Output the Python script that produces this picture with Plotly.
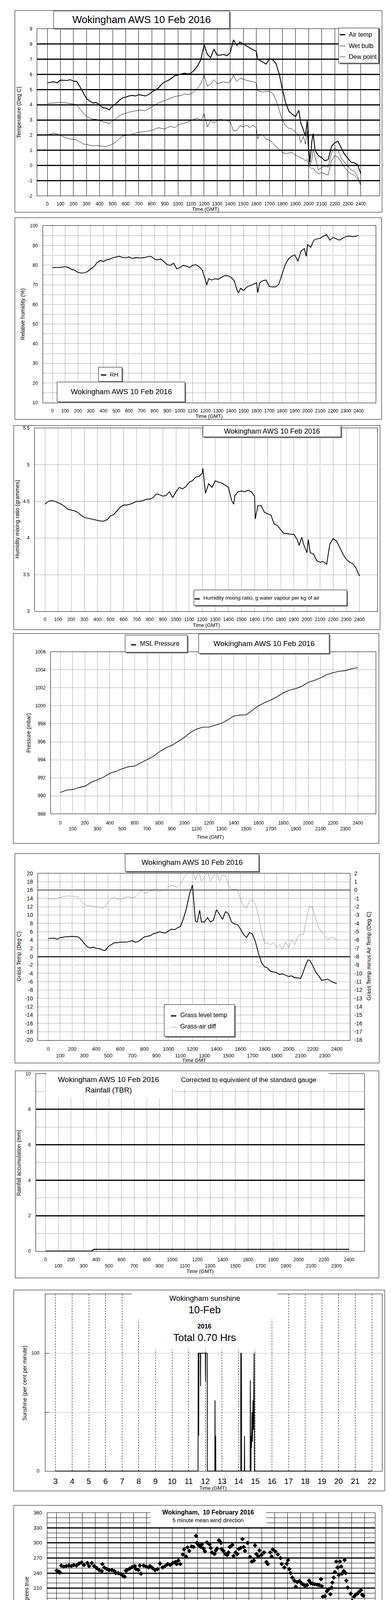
import plotly.graph_objects as go

W, H = 1000, 5000
FONT = "Liberation Sans"

# ---------------------------------------------------------------- data
# time in HHMM-style units (100 = one hour): air temp, wet bulb, dew point (deg C)
temp_rows = [
    (0, 5.44, 4.09, 2.02), (50, 5.52, 4.11, 2.12), (75, 5.44, 4.13, 2.08), (100, 5.62, 4.17, 1.97),
    (150, 5.60, 4.11, 1.80), (175, 5.65, 4.08, 1.75), (200, 5.56, 4.05, 1.72), (225, 5.54, 3.98, 1.68),
    (250, 5.18, 3.73, 1.55), (275, 4.80, 3.47, 1.42), (300, 4.41, 3.21, 1.38), (325, 4.24, 3.13, 1.33),
    (350, 4.11, 3.04, 1.29), (375, 4.15, 3.04, 1.33), (400, 3.98, 2.96, 1.29), (425, 3.81, 2.89, 1.26),
    (450, 3.77, 2.83, 1.26), (475, 3.66, 2.76, 1.32), (500, 3.94, 2.96, 1.42), (525, 4.07, 3.09, 1.55),
    (550, 4.28, 3.26, 1.76), (575, 4.45, 3.38, 1.93), (600, 4.50, 3.43, 1.97), (625, 4.58, 3.51, 2.00),
    (650, 4.62, 3.56, 2.06), (675, 4.58, 3.60, 2.12), (700, 4.67, 3.64, 2.19), (725, 4.62, 3.64, 2.21),
    (750, 4.58, 3.60, 2.23), (775, 4.67, 3.73, 2.27), (800, 4.84, 3.85, 2.32), (825, 4.97, 3.98, 2.40),
    (850, 5.10, 4.11, 2.49), (875, 5.35, 4.20, 2.44), (900, 5.52, 4.28, 2.40), (925, 5.60, 4.37, 2.53),
    (950, 5.74, 4.45, 2.57), (975, 5.91, 4.54, 2.49), (1000, 5.95, 4.58, 2.66), (1025, 6.03, 4.62, 2.74),
    (1050, 6.08, 4.71, 2.79), (1075, 6.03, 4.67, 2.87), (1100, 6.08, 4.71, 2.96), (1125, 6.29, 4.88, 3.04),
    (1150, 6.55, 5.10, 3.13), (1175, 6.97, 5.39, 2.96), (1200, 7.95, 5.95, 3.40), (1225, 7.32, 5.22, 2.53),
    (1250, 7.10, 5.35, 2.96), (1275, 7.66, 5.65, 2.79), (1300, 7.27, 5.39, 2.96), (1325, 7.27, 5.44, 3.04),
    (1350, 7.32, 5.52, 3.00), (1375, 7.23, 5.44, 2.96), (1400, 7.44, 5.52, 2.87), (1425, 8.28, 5.95, 2.27),
    (1450, 7.91, 5.52, 2.30), (1475, 8.13, 5.74, 2.62), (1500, 8.00, 5.69, 2.53), (1525, 7.87, 5.60, 2.66),
    (1550, 7.74, 5.56, 2.49), (1575, 7.62, 5.52, 2.66), (1600, 7.53, 5.44, 2.49), (1610, 7.02, 4.92, 1.75),
    (1625, 6.93, 4.88, 2.06), (1650, 6.80, 4.84, 2.02), (1675, 6.68, 4.88, 1.72), (1700, 7.02, 4.88, 1.68),
    (1725, 6.97, 4.75, 1.50), (1750, 6.72, 4.32, 1.25), (1775, 6.03, 3.64, 1.08), (1800, 5.01, 2.96, 0.86),
    (1825, 4.11, 2.62, 0.78), (1850, 3.56, 2.44, 0.82), (1875, 3.38, 2.40, 0.86), (1900, 3.21, 2.19, 0.69),
    (1925, 3.64, 2.02, 0.56), (1940, 2.79, 1.50, 0.50), (1960, 2.36, 1.93, 0.44), (1975, 1.93, 1.42, 0.31),
    (1990, 2.96, 2.27, 0.40), (2000, 1.25, 0.65, 0.05), (2010, 0.22, -0.03, -0.10), (2025, 1.59, 0.39, -0.21),
    (2035, 2.10, 1.08, -0.15), (2050, 0.99, 0.56, -0.38), (2075, 0.65, -0.29, -0.55), (2100, 0.52, -0.12, -0.46),
    (2125, 0.31, -0.03, -0.55), (2150, 0.39, -0.12, -0.63), (2175, 1.25, 0.82, 0.31), (2200, 1.50, 1.16, 0.65),
    (2225, 1.59, 0.99, 0.56), (2250, 1.16, 0.48, 0.22), (2275, 0.74, 0.22, -0.12), (2300, 0.48, -0.03, -0.38),
    (2325, 0.22, -0.29, -0.55), (2350, 0.18, -0.38, -0.63), (2375, 0.05, -0.72, -0.89), (2400, -0.55, -1.23, -1.32),
]

# relative humidity (%)
rh = [
    (0, 78.8), (50, 78.8), (100, 79.2), (125, 78.8), (150, 77.8), (175, 77.4), (200, 76.3), (225, 76.0),
    (250, 76.1), (275, 76.7), (300, 78.1), (325, 79.2), (350, 81.3), (375, 82.4), (400, 81.8), (425, 82.7),
    (450, 83.1), (475, 83.8), (500, 84.2), (525, 84.5), (550, 83.9), (575, 83.8), (600, 84.2), (625, 83.4),
    (650, 83.8), (675, 83.8), (700, 83.7), (725, 83.9), (750, 84.4), (775, 84.4), (800, 83.1), (825, 82.7),
    (850, 83.1), (875, 81.7), (900, 80.2), (925, 79.9), (950, 81.0), (975, 78.1), (1000, 78.8), (1025, 79.9),
    (1050, 79.5), (1075, 78.8), (1100, 79.9), (1125, 80.2), (1150, 79.2), (1175, 77.4), (1200, 72.4), (1210, 69.9),
    (1225, 73.1), (1250, 72.4), (1275, 73.1), (1300, 72.8), (1325, 73.8), (1350, 74.7), (1375, 74.6), (1400, 73.8),
    (1425, 72.1), (1450, 66.7), (1460, 66.0), (1475, 68.2), (1500, 67.1), (1525, 68.9), (1550, 69.6), (1575, 70.3),
    (1600, 71.0), (1610, 66.0), (1625, 71.0), (1650, 72.1), (1675, 72.4), (1700, 69.2), (1725, 68.9), (1750, 68.9),
    (1775, 70.3), (1800, 75.3), (1825, 80.2), (1850, 83.1), (1875, 84.5), (1900, 85.2), (1925, 82.0), (1950, 87.3),
    (1975, 88.4), (1990, 84.5), (2000, 90.5), (2025, 89.1), (2050, 92.7), (2075, 93.4), (2100, 93.7), (2125, 94.8),
    (2150, 95.5), (2175, 92.7), (2200, 94.1), (2225, 93.4), (2250, 92.7), (2275, 93.7), (2300, 94.5), (2325, 94.8),
    (2350, 94.5), (2375, 94.6), (2400, 95.2),
]

# humidity mixing ratio (g/kg)
mixing = [
    (0, 4.46), (25, 4.50), (50, 4.51), (75, 4.50), (100, 4.48), (125, 4.46), (150, 4.43), (175, 4.39),
    (200, 4.38), (225, 4.37), (250, 4.35), (275, 4.31), (300, 4.28), (325, 4.27), (350, 4.26), (375, 4.25),
    (400, 4.24), (425, 4.23), (450, 4.23), (475, 4.25), (500, 4.30), (525, 4.32), (550, 4.37), (575, 4.42),
    (600, 4.45), (625, 4.45), (650, 4.46), (675, 4.48), (700, 4.50), (725, 4.50), (750, 4.51), (775, 4.53),
    (800, 4.53), (825, 4.55), (850, 4.60), (875, 4.59), (900, 4.57), (925, 4.58), (950, 4.63), (975, 4.55),
    (1000, 4.63), (1025, 4.69), (1050, 4.67), (1075, 4.70), (1100, 4.76), (1125, 4.78), (1150, 4.83), (1175, 4.84),
    (1200, 4.88), (1205, 4.95), (1225, 4.61), (1250, 4.74), (1275, 4.69), (1300, 4.78), (1325, 4.76), (1350, 4.75),
    (1375, 4.72), (1400, 4.69), (1425, 4.51), (1440, 4.46), (1450, 4.58), (1475, 4.63), (1500, 4.64), (1525, 4.63),
    (1550, 4.65), (1575, 4.63), (1600, 4.57), (1605, 4.26), (1625, 4.44), (1650, 4.44), (1675, 4.35), (1700, 4.33),
    (1725, 4.31), (1750, 4.19), (1775, 4.17), (1800, 4.11), (1825, 4.06), (1850, 4.06), (1875, 4.05), (1900, 4.05),
    (1925, 3.98), (1940, 3.90), (1960, 4.01), (1975, 3.91), (2000, 3.80), (2010, 3.98), (2025, 3.80), (2050, 3.78),
    (2075, 3.69), (2100, 3.67), (2125, 3.68), (2150, 3.64), (2175, 3.92), (2200, 3.99), (2225, 3.96), (2250, 3.87),
    (2275, 3.78), (2300, 3.71), (2325, 3.67), (2350, 3.65), (2375, 3.59), (2400, 3.48),
]

# MSL pressure (mbar)
pressure = [
    (0, 990.37), (50, 990.63), (100, 990.70), (150, 990.92), (200, 991.07), (250, 991.50), (300, 991.79),
    (350, 992.08), (400, 992.51), (450, 992.72), (500, 993.01), (550, 993.23), (600, 993.30), (650, 993.66),
    (700, 994.02), (750, 994.38), (800, 994.89), (850, 995.32), (900, 995.61), (950, 996.04), (1000, 996.48),
    (1050, 997.05), (1100, 997.41), (1150, 997.63), (1200, 997.63), (1250, 997.85), (1300, 998.06), (1350, 998.42),
    (1400, 998.86), (1450, 998.97), (1500, 999.00), (1550, 999.51), (1600, 1000.01), (1650, 1000.37),
    (1700, 1000.66), (1750, 1001.02), (1800, 1001.45), (1850, 1001.74), (1900, 1001.92), (1950, 1002.18),
    (2000, 1002.61), (2050, 1002.83), (2100, 1003.11), (2150, 1003.47), (2200, 1003.69), (2250, 1003.84),
    (2300, 1003.91), (2350, 1004.12), (2400, 1004.24),
]

# grass level temperature (deg C, left axis)
grass = [
    (0, 4.37), (50, 4.44), (75, 4.19), (100, 4.59), (150, 4.81), (200, 4.87), (250, 4.75), (275, 4.12),
    (300, 3.19), (325, 2.41), (350, 2.10), (375, 2.32), (400, 2.01), (425, 1.95), (450, 1.63), (475, 1.48),
    (500, 2.41), (525, 2.88), (550, 3.35), (575, 3.35), (600, 3.50), (650, 3.50), (700, 3.81), (725, 3.50),
    (750, 3.66), (800, 4.75), (825, 4.90), (850, 5.06), (875, 5.53), (900, 5.68), (925, 5.99), (950, 5.84),
    (975, 5.68), (1000, 6.15), (1025, 6.61), (1050, 6.46), (1075, 6.93), (1100, 7.24), (1125, 9.10), (1150, 11.6),
    (1175, 15.0), (1200, 17.2), (1210, 13.5), (1225, 8.5), (1240, 8.33), (1260, 11.13), (1275, 8.33), (1300, 8.33),
    (1325, 9.42), (1350, 8.33), (1375, 8.80), (1400, 11.28), (1425, 10.19), (1450, 8.95), (1475, 10.82),
    (1500, 10.35), (1525, 8.33), (1550, 7.86), (1575, 7.70), (1600, 6.61), (1625, 5.37), (1650, 4.59),
    (1675, 5.84), (1700, 5.37), (1725, 3.50), (1750, 0.70), (1775, -1.48), (1800, -2.41), (1825, -2.72),
    (1850, -3.50), (1875, -3.66), (1900, -3.81), (1925, -4.28), (1950, -4.12), (1975, -4.44), (2000, -4.75),
    (2025, -4.59), (2050, -5.06), (2075, -5.06), (2100, -5.21), (2120, -3.81), (2140, -2.10), (2160, -0.79),
    (2175, -0.86), (2200, -2.10), (2225, -3.66), (2250, -4.59), (2275, -5.68), (2300, -5.53), (2325, -5.37),
    (2350, -5.84), (2375, -6.21), (2400, -6.46),
]

# grass minus air temperature (deg C, right axis)
grass_diff = [
    (0, -1.08), (50, -1.08), (100, -0.88), (150, -0.72), (200, -0.72), (250, -0.80), (275, -1.35), (300, -1.66),
    (325, -1.89), (350, -1.86), (375, -1.97), (400, -2.02), (425, -2.05), (450, -2.20), (475, -1.97), (500, -1.42),
    (525, -1.03), (550, -0.88), (575, -1.08), (600, -1.11), (625, -0.96), (650, -0.83), (675, -0.80), (700, -0.96),
    (725, -0.80), (750, -0.49), (775, -0.02), (800, -0.33), (825, -0.33), (850, -0.10), (875, 0.05), (900, 0.13),
    (925, -0.26), (950, 0.05), (975, -0.02), (1000, 0.37), (1025, 0.60), (1050, 0.44), (1075, 0.37), (1100, 0.75),
    (1125, 1.38), (1150, 1.92), (1175, 2.40), (1200, 2.60), (1225, 1.22), (1250, 2.30), (1275, 1.07), (1300, 1.53),
    (1325, 2.20), (1350, 1.07), (1375, 1.69), (1400, 2.30), (1425, 1.07), (1450, 1.84), (1475, 1.69), (1500, 0.60),
    (1525, 0.05), (1550, 0.13), (1575, -0.02), (1600, -1.11), (1625, -1.89), (1650, -2.20), (1675, -1.27),
    (1700, -1.19), (1725, -1.74), (1750, -3.14), (1775, -5.00), (1800, -6.40), (1825, -6.33), (1850, -6.56),
    (1875, -6.25), (1900, -6.87), (1925, -6.56), (1950, -7.10), (1975, -6.25), (2000, -6.87), (2025, -5.94),
    (2050, -6.56), (2075, -5.63), (2100, -5.32), (2125, -5.32), (2140, -4.07), (2160, -2.67), (2175, -1.89),
    (2200, -2.20), (2225, -3.45), (2250, -4.54), (2275, -5.00), (2300, -5.47), (2325, -5.94), (2350, -5.70),
    (2375, -5.78), (2400, -5.94),
]

# rainfall accumulation (mm)
rain = [(0, 0.0), (365, 0.0), (380, 0.1), (2400, 0.1)]

# sunshine, hour of day vs per cent of the minute
sunshine = [
    (3.0, 0), (11.56, 0), (11.57, 100), (11.59, 100), (11.60, 30), (11.61, 100), (11.70, 100), (11.71, 72),
    (11.72, 100), (12.00, 100), (12.01, 76), (12.02, 100), (12.11, 100), (12.12, 0), (12.57, 0), (12.58, 60),
    (12.59, 0), (12.61, 0), (12.62, 30), (12.63, 0), (14.12, 0), (14.13, 100), (14.16, 100), (14.17, 74),
    (14.18, 0), (14.34, 0), (14.35, 30), (14.36, 0), (14.69, 0), (14.70, 77), (14.71, 0), (14.74, 0),
    (14.75, 30), (14.77, 20), (14.80, 50), (14.83, 25), (14.86, 60), (14.89, 35), (14.93, 100), (14.94, 40),
    (14.95, 0), (22.0, 0),
]

# 5 minute mean wind direction (hour, degrees true)
wind_dir = [
    (0.00, 245), (0.16, 243), (0.26, 241), (0.36, 255), (0.55, 253), (0.75, 254), (0.95, 255), (1.15, 254),
    (1.34, 256), (1.54, 255), (1.74, 259), (1.94, 261), (2.13, 256), (2.39, 260), (2.53, 254), (2.73, 260),
    (2.92, 254), (3.12, 250), (3.32, 246), (3.52, 244), (3.56, 258), (3.72, 251), (3.91, 248), (4.11, 246),
    (4.31, 246), (4.50, 244), (4.60, 240), (4.80, 240), (5.00, 238), (5.20, 234), (5.30, 233), (5.40, 245),
    (5.49, 246), (5.69, 249), (5.89, 252), (6.09, 254), (6.19, 248), (6.38, 246), (6.48, 255), (6.58, 239),
    (6.78, 255), (6.98, 253), (7.17, 251), (7.27, 254), (7.47, 250), (7.67, 246), (7.87, 248), (8.06, 259),
    (8.26, 251), (8.46, 254), (8.66, 258), (8.85, 256), (9.05, 260), (9.25, 262), (9.35, 258), (9.49, 265),
    (9.64, 258), (9.84, 277), (9.94, 287), (10.08, 273), (10.20, 291), (10.34, 284), (10.53, 293), (10.67, 292),
    (10.87, 314), (10.93, 300), (11.07, 296), (11.23, 292), (11.32, 297), (11.46, 289), (11.56, 283), (11.72, 301),
    (11.92, 297), (12.02, 290), (12.11, 281), (12.31, 278), (12.41, 285), (12.51, 289), (12.65, 305), (12.81, 300),
    (12.85, 288), (13.00, 284), (13.16, 278), (13.30, 276), (13.40, 281), (13.50, 292), (13.70, 296), (13.79, 274),
    (13.95, 281), (14.09, 278), (14.19, 288), (14.35, 290), (14.49, 308), (14.58, 292), (14.68, 284), (14.88, 300),
    (15.08, 272), (15.22, 263), (15.38, 265), (15.47, 295), (15.57, 278), (15.73, 273), (15.81, 285), (15.97, 276),
    (16.17, 281), (16.36, 262), (16.46, 258), (16.66, 281), (16.76, 273), (16.86, 287), (17.06, 283), (17.25, 277),
    (17.45, 270), (17.55, 258), (17.75, 251), (17.94, 259), (18.04, 266), (18.14, 248), (18.24, 240), (18.38, 231),
    (18.54, 225), (18.64, 213), (18.77, 222), (18.93, 224), (19.09, 220), (19.23, 217), (19.37, 215), (19.53, 216),
    (19.68, 225), (19.82, 220), (19.96, 219), (20.12, 218), (20.32, 217), (20.47, 216), (20.61, 228), (20.67, 214),
    (20.77, 193), (20.91, 194), (21.07, 204), (21.21, 208), (21.34, 198), (21.44, 211), (21.50, 221), (21.60, 231),
    (21.70, 242), (21.80, 263), (21.90, 251), (22.00, 236), (22.09, 263), (22.19, 253), (22.25, 239), (22.39, 244),
    (22.45, 266), (22.53, 240), (22.59, 225), (22.69, 211), (22.79, 152), (22.85, 140), (22.92, 199), (23.04, 185),
    (23.08, 154), (23.18, 193), (23.32, 197), (23.48, 200), (23.64, 204), (23.72, 206), (23.83, 197), (23.91, 195),
]

# 10 minute mean wind speed (hour, knots)
wind_mean = [
    (0.0, 10.3), (0.25, 9.5), (0.5, 9.3), (0.75, 9.7), (1.0, 11.2), (1.25, 10.1), (1.5, 11.6), (1.75, 13.0),
    (2.0, 9.5), (2.2, 11.0), (2.5, 9.9), (2.75, 9.3), (3.0, 9.5), (3.25, 8.9), (3.5, 9.1), (3.75, 9.7),
    (4.0, 9.1), (4.25, 8.2), (4.5, 9.3), (4.75, 7.8), (5.0, 7.4), (5.25, 7.8), (5.5, 8.7), (5.75, 8.9),
    (6.0, 8.4), (6.25, 9.7), (6.5, 8.9), (6.75, 8.4), (7.0, 9.5), (7.25, 8.4), (7.5, 8.7), (7.75, 8.2),
    (8.0, 8.0), (8.25, 9.3), (8.5, 8.2), (8.75, 7.4), (9.0, 7.6), (9.25, 7.0), (9.5, 7.8), (9.75, 6.8),
    (10.0, 7.6), (10.25, 7.4), (10.5, 7.0), (10.75, 7.6), (11.0, 6.1), (11.25, 6.8), (11.5, 5.5), (11.75, 6.5),
    (12.0, 6.1), (12.25, 7.2), (12.5, 6.3), (12.75, 5.9), (13.0, 7.0), (13.25, 6.5), (13.5, 7.2), (13.75, 7.6),
    (14.0, 5.7), (14.25, 6.1), (14.5, 7.6), (14.75, 5.7), (15.0, 6.1), (15.25, 6.3), (15.5, 7.6), (15.75, 6.3),
    (16.0, 5.7), (16.25, 3.8), (16.5, 3.0), (16.75, 3.8), (17.0, 4.4), (17.25, 3.4), (17.5, 3.2), (17.75, 2.5),
    (18.0, 2.1), (18.25, 2.5), (18.5, 3.0), (18.75, 3.4), (19.0, 3.2), (19.25, 3.4), (19.5, 3.4), (19.75, 3.4),
    (20.0, 3.2), (20.25, 3.4), (20.5, 1.9), (20.75, 2.1), (21.0, 2.3), (21.25, 2.5), (21.5, 3.0), (21.75, 1.3),
    (22.0, 1.1), (22.25, 1.7), (22.5, 1.3), (22.75, 1.1), (23.0, 1.7), (23.25, 2.1), (23.5, 3.0), (23.75, 3.4),
    (24.0, 3.6),
]

# max gust (hour, knots)
wind_gust = [
    (0.0, 12.5), (0.1, 16.7), (0.2, 11.8), (0.3, 15.5), (0.4, 12.0), (0.5, 16.0), (0.6, 10.5), (0.7, 22.3),
    (0.8, 12.5), (0.9, 17.5), (1.0, 12.0), (1.1, 20.5), (1.2, 13.5), (1.3, 18.0), (1.4, 14.0), (1.5, 19.5),
    (1.6, 13.0), (1.7, 24.4), (1.8, 14.5), (1.9, 21.0), (2.0, 12.5), (2.1, 20.3), (2.2, 13.0), (2.3, 18.0),
    (2.4, 11.5), (2.5, 16.0), (2.6, 10.5), (2.7, 15.5), (2.8, 11.0), (2.9, 14.5), (3.0, 10.0), (3.1, 14.0),
    (3.2, 9.5), (3.3, 15.0), (3.4, 10.0), (3.5, 13.5), (3.6, 16.0), (3.7, 10.5), (3.8, 14.5), (3.9, 9.5),
    (4.0, 15.0), (4.1, 10.0), (4.2, 16.5), (4.3, 9.0), (4.4, 14.5), (4.5, 9.5), (4.6, 13.0), (4.7, 8.5),
    (4.8, 14.0), (4.9, 9.0), (5.0, 16.5), (5.1, 9.5), (5.2, 13.5), (5.3, 10.0), (5.4, 15.0), (5.5, 20.3),
    (5.6, 10.5), (5.7, 16.5), (5.8, 11.0), (5.9, 15.0), (6.0, 10.5), (6.1, 19.4), (6.2, 11.0), (6.3, 15.5),
    (6.4, 10.0), (6.5, 14.0), (6.6, 9.5), (6.7, 15.0), (6.8, 10.0), (6.9, 14.5), (7.0, 9.5), (7.1, 16.0),
    (7.2, 10.0), (7.3, 15.0), (7.4, 9.0), (7.5, 13.5), (7.6, 9.5), (7.7, 15.5), (7.8, 18.2), (7.9, 9.0),
    (8.0, 14.0), (8.1, 8.5), (8.2, 13.5), (8.3, 9.0), (8.4, 14.5), (8.5, 8.5), (8.6, 13.0), (8.7, 9.0),
    (8.8, 15.5), (8.9, 8.0), (9.0, 13.0), (9.1, 8.5), (9.2, 14.5), (9.3, 8.0), (9.4, 12.5), (9.5, 17.0),
    (9.6, 8.5), (9.7, 13.5), (9.8, 8.0), (9.9, 14.0), (10.0, 7.5), (10.1, 12.5), (10.2, 8.0), (10.3, 13.0),
    (10.4, 7.5), (10.5, 12.0), (10.6, 8.0), (10.7, 13.0), (10.8, 7.0), (10.9, 11.5), (11.0, 7.5), (11.1, 12.5),
    (11.2, 6.5), (11.3, 11.0), (11.4, 7.0), (11.5, 10.5), (11.6, 6.5), (11.7, 12.0), (11.8, 7.0), (11.9, 11.0),
    (12.0, 6.5), (12.1, 11.5), (12.2, 7.5), (12.3, 12.0), (12.4, 7.0), (12.5, 10.5), (12.6, 6.5), (12.7, 11.0),
    (12.8, 7.0), (12.9, 12.5), (13.0, 7.5), (13.1, 13.0), (13.2, 7.0), (13.3, 11.5), (13.4, 7.5), (13.5, 12.5),
    (13.6, 6.5), (13.7, 13.0), (13.8, 6.0), (13.9, 10.5), (14.0, 5.5), (14.1, 10.0), (14.2, 6.0), (14.3, 11.0),
    (14.4, 6.5), (14.5, 9.5), (14.6, 6.0), (14.7, 11.5), (14.8, 6.5), (14.9, 12.0), (15.0, 7.0), (15.1, 11.0),
    (15.2, 6.5), (15.3, 13.0), (15.4, 7.0), (15.5, 14.0), (15.6, 7.5), (15.7, 12.5), (15.8, 6.5), (15.9, 11.0),
    (16.0, 17.0), (16.1, 6.0), (16.2, 8.0), (16.3, 4.5), (16.4, 7.0), (16.6, 5.0), (16.8, 6.5), (17.0, 4.5),
    (17.2, 6.0), (17.4, 3.5), (17.6, 5.0), (17.8, 3.0), (18.0, 4.0), (18.2, 2.8), (18.4, 3.8), (18.6, 3.2),
    (18.8, 4.5), (19.0, 3.5), (19.2, 4.8), (19.4, 3.6), (19.6, 5.0), (19.8, 3.8), (20.0, 4.6), (20.2, 3.5),
    (20.4, 4.2), (20.6, 2.2), (20.8, 3.2), (21.0, 2.5), (21.2, 3.8), (21.4, 2.6), (21.6, 3.7), (21.8, 1.5),
    (22.0, 3.5), (22.2, 1.8), (22.4, 3.4), (22.6, 1.6), (22.8, 3.0), (23.0, 2.0), (23.2, 4.0), (23.4, 3.2),
    (23.6, 5.0), (23.8, 4.2), (24.0, 5.5),
]

# speeds below 4 kt shown at x10 scale (hour, knots x10)
wind_x10 = [
    (16.47, 37.7), (16.53, 35.3), (16.57, 32.3), (16.59, 29.6), (16.61, 27.9), (16.67, 34.2), (16.69, 31.3),
    (16.72, 37.7), (16.76, 39.3), (16.80, 37.0), (17.11, 39.3), (17.19, 37.8), (17.21, 36.7), (17.30, 34.8),
    (17.34, 33.0), (17.40, 31.8), (17.44, 29.6), (17.50, 32.5), (17.57, 31.5), (17.65, 32.2), (17.73, 31.3),
    (17.82, 30.0), (17.92, 28.3), (18.02, 26.2), (18.08, 24.5), (18.11, 22.0), (18.15, 20.3), (18.21, 19.0),
    (18.31, 22.0), (18.40, 25.3), (18.50, 27.9), (18.60, 31.3), (18.69, 32.9), (18.79, 35.5), (18.89, 34.6),
    (18.98, 33.0), (19.08, 30.8), (19.18, 33.5), (19.27, 32.0), (19.37, 29.6), (19.47, 32.5), (19.56, 35.5),
    (19.66, 34.2), (19.76, 35.9), (19.85, 35.0), (19.95, 32.5), (20.05, 29.6), (20.14, 31.3), (20.24, 34.2),
    (20.34, 32.9), (20.43, 29.6), (20.47, 27.0), (20.53, 24.9), (20.59, 22.8), (20.63, 20.3), (20.72, 19.4),
    (20.82, 17.7), (20.92, 21.5), (21.05, 22.5), (21.17, 23.7), (21.21, 20.3), (21.30, 27.5), (21.40, 29.6),
    (21.49, 30.0), (21.59, 27.5), (21.69, 29.1), (21.75, 25.3), (21.78, 21.5), (21.80, 19.4), (21.82, 17.5),
    (21.84, 15.4), (21.88, 12.7), (21.94, 11.4), (22.02, 8.4), (22.07, 10.0), (22.17, 15.0), (22.27, 17.7),
    (22.36, 16.1), (22.46, 17.0), (22.56, 13.9), (22.65, 10.1), (22.75, 11.8), (22.85, 13.5), (22.94, 9.3),
    (23.00, 12.2), (23.10, 15.2), (23.17, 18.6), (23.23, 22.0), (23.33, 20.3), (23.42, 16.1), (23.48, 25.3),
    (23.56, 27.9), (23.62, 31.7), (23.68, 33.8), (23.75, 35.5), (23.87, 35.0), (23.95, 36.0), (24.00, 36.3),
]

# tick values / labels
hhmm_ticks = [0, 100, 200, 300, 400, 500, 600, 700, 800, 900, 1000, 1100, 1200,
              1300, 1400, 1500, 1600, 1700, 1800, 1900, 2000, 2100, 2200, 2300, 2400]
sun_ticks = [3, 4, 5, 6, 7, 8, 9, 10, 11, 12, 13, 14, 15, 16, 17, 18, 19, 20, 21, 22]
hour_ticks = [0, 1, 2, 3, 4, 5, 6, 7, 8, 9, 10, 11, 12, 13, 14, 15, 16, 17, 18, 19, 20, 21, 22, 23, 24]
clock_ticks = hour_ticks[:24]

hhmm_labels = [str(v) for v in hhmm_ticks]
hhmm_two_rows = [str(v) if (v // 100) % 2 == 0 else "<br>" + str(v) for v in hhmm_ticks]
clock_labels = [f"{h:02d}:00" if h % 2 == 0 else f"<br>{h:02d}:00" for h in clock_ticks]


def cols(rows, i):
    return [r[i] for r in rows]


# ---------------------------------------------------------------- helpers
def px(x):
    return x / W


def py(y):
    return 1 - y / H


def xd(l, r):
    return [l / W, r / W]


def yd(t, b):
    return [1 - b / H, 1 - t / H]


shapes = []
notes = []


def rect(x0, y0, x1, y1, fill="white", lw=1, shadow=False):
    if shadow:
        shapes.append(dict(type="rect", xref="paper", yref="paper", x0=px(x0 + 3), x1=px(x1 + 3),
                           y0=py(y1 + 3), y1=py(y0 + 3), fillcolor="#7f7f7f", line=dict(width=0),
                           layer="above"))
    shapes.append(dict(type="rect", xref="paper", yref="paper", x0=px(x0), x1=px(x1), y0=py(y1), y1=py(y0),
                       fillcolor=fill, line=dict(color="black", width=lw), layer="above"))


def seg(x0, y0, x1, y1, width=1, color="black"):
    shapes.append(dict(type="line", xref="paper", yref="paper", x0=px(x0), x1=px(x1), y0=py(y0), y1=py(y1),
                       line=dict(color=color, width=width), layer="above"))


def text(x, y, s, size=13, anchor="center", angle=0, bold=False):
    notes.append(dict(x=px(x), y=py(y), xref="paper", yref="paper", showarrow=False,
                      text=f"<b>{s}</b>" if bold else s, xanchor=anchor, yanchor="middle",
                      textangle=angle, font=dict(family=FONT, size=size, color="black")))


DOT = "1px,2px"


def xaxis(anchor, dom, rng, vals, labels, size=12, stand=5, **kw):
    d = dict(anchor=anchor, domain=dom, range=rng, tickmode="array", tickvals=vals, ticktext=labels,
             tickangle=0, showline=True, mirror=True, linecolor="black", linewidth=1, ticks="",
             zeroline=False, showgrid=True, gridcolor="black", gridwidth=1,
             tickfont=dict(family=FONT, size=size, color="black"), ticklabelstandoff=stand)
    d.update(kw)
    return d


def yaxis(anchor, dom, rng, vals, labels=None, size=12, stand=8, **kw):
    d = dict(anchor=anchor, domain=dom, range=rng, tickmode="array", tickvals=vals,
             ticktext=labels if labels is not None else [f"{v:g}" for v in vals], tickangle=0,
             showline=True, mirror=True, linecolor="black", linewidth=1, ticks="", zeroline=False,
             showgrid=True, gridcolor="black", gridwidth=1,
             tickfont=dict(family=FONT, size=size, color="black"), ticklabelstandoff=stand)
    d.update(kw)
    return d


fig = go.Figure()
lay = {}

# ---------------------------------------------------------------- 1 temperatures
t1 = cols(temp_rows, 0)
fig.add_trace(go.Scatter(x=t1, y=cols(temp_rows, 3), mode="lines", line=dict(color="black", width=1),
                         xaxis="x", yaxis="y", showlegend=False))
fig.add_trace(go.Scatter(x=t1, y=cols(temp_rows, 2), mode="lines", line=dict(color="black", width=1),
                         xaxis="x", yaxis="y", showlegend=False))
fig.add_trace(go.Scatter(x=t1, y=cols(temp_rows, 1), mode="lines", line=dict(color="black", width=2.2),
                         xaxis="x", yaxis="y", showlegend=False))
lay["xaxis"] = xaxis("y", xd(87, 963), [-78, 2544], hhmm_ticks, hhmm_labels, stand=9)
lay["yaxis"] = yaxis("x", yd(58, 487), [-2, 9], [-2, -1, 0, 1, 2, 3, 4, 5, 6, 7, 8, 9], gridwidth=3, stand=9)
rect(30, 11, 969, 529, fill="rgba(0,0,0,0)")
rect(129, 12, 579, 57, shadow=True)
text(354, 34, "Wokingham AWS 10 Feb 2016", size=26)
rect(858, 56, 960, 146, shadow=True)
for yy, name, lw in [(73, "Air temp", 3), (102, "Wet bulb", 1), (130, "Dew point", 1)]:
    seg(861, yy, 875, yy, width=lw)
    text(882, yy, name, size=16, anchor="left")
text(40, 272, "Temperature (Deg C)", size=14, angle=-90)
text(518, 521, "Time (GMT)", size=13)

# ---------------------------------------------------------------- 2 relative humidity
fig.add_trace(go.Scatter(x=cols(rh, 0), y=cols(rh, 1), mode="lines", line=dict(color="black", width=2),
                         xaxis="x2", yaxis="y2", showlegend=False))
lay["xaxis2"] = xaxis("y2", xd(102, 953), [-74, 2535], hhmm_ticks, hhmm_labels, stand=10, griddash=DOT)
lay["yaxis2"] = yaxis("x2", yd(564, 1018), [10, 100], [10, 20, 30, 40, 50, 60, 70, 80, 90, 100],
                      griddash=DOT, stand=10,
                      minor=dict(tickvals=[15, 25, 35, 45, 55, 65, 75, 85, 95], showgrid=True,
                                 gridcolor="black", griddash=DOT, gridwidth=1, ticks=""))
rect(30, 543, 968, 1061, fill="rgba(0,0,0,0)")
rect(244, 927, 304, 964, shadow=True)
seg(250, 947, 264, 947, width=3)
text(271, 946, "RH", size=15, anchor="left")
rect(138, 965, 465, 1016, shadow=True)
text(302, 990, "Wokingham AWS 10 Feb 2016", size=19)
text(50, 791, "Relative humidity (%)", size=14, angle=-90)
text(527, 1053, "Time (GMT)", size=13)

# ---------------------------------------------------------------- 3 mixing ratio
fig.add_trace(go.Scatter(x=cols(mixing, 0), y=cols(mixing, 1), mode="lines", line=dict(color="black", width=2),
                         xaxis="x3", yaxis="y3", showlegend=False))
lay["xaxis3"] = xaxis("y3", xd(81, 957), [-78, 2537], hhmm_ticks, hhmm_labels, stand=10, griddash=DOT)
lay["yaxis3"] = yaxis("x3", yd(1083, 1554), [3, 5.5], [3, 3.5, 4, 4.5, 5, 5.5], griddash=DOT, stand=10)
rect(27, 1077, 964, 1601, fill="rgba(0,0,0,0)")
rect(511, 1077, 864, 1106, shadow=True)
text(687, 1091, "Wokingham AWS 10 Feb 2016", size=18)
rect(488, 1499, 879, 1539, shadow=True)
seg(490, 1522, 503, 1522, width=3)
text(510, 1519, "Humidity mixing ratio, g water vapour per kg of air", size=13.5, anchor="left")
text(36, 1318, "Humidity mixing ratio (grammes)", size=14, angle=-90)
text(520, 1590, "Time (GMT)", size=13)

# ---------------------------------------------------------------- 4 pressure
fig.add_trace(go.Scatter(x=cols(pressure, 0), y=cols(pressure, 1), mode="lines",
                         line=dict(color="black", width=1.6), xaxis="x4", yaxis="y4", showlegend=False))
lay["xaxis4"] = xaxis("y4", xd(122, 953), [-76, 2545], hhmm_ticks, hhmm_two_rows, stand=12, griddash=DOT)
lay["yaxis4"] = yaxis("x4", yd(1658, 2074), [988, 1006], [988, 990, 992, 994, 996, 998, 1000, 1002, 1004, 1006],
                      griddash=DOT, stand=10)
rect(26, 1611, 961, 2150, fill="rgba(0,0,0,0)")
rect(312, 1615, 471, 1659, shadow=True)
seg(327, 1640, 340, 1640, width=3)
text(348, 1637, "MSL Pressure", size=16, anchor="left")
rect(500, 1612, 834, 1662, shadow=True)
text(667, 1637, "Wokingham AWS 10 Feb 2016", size=19)
text(65, 1867, "Pressure (mbar)", size=14, angle=-90)
text(530, 2133, "Time (GMT)", size=13)

# ---------------------------------------------------------------- 5 grass temperature
fig.add_trace(go.Scatter(x=cols(grass_diff, 0), y=cols(grass_diff, 1), mode="lines",
                         line=dict(color="#8a8a8a", width=1), xaxis="x5", yaxis="y10", showlegend=False))
fig.add_trace(go.Scatter(x=cols(grass, 0), y=cols(grass, 1), mode="lines", line=dict(color="black", width=2),
                         xaxis="x5", yaxis="y5", showlegend=False))
left_vals = [-20, -18, -16, -14, -12, -10, -8, -6, -4, -2, 0, 2, 4, 6, 8, 10, 12, 14, 16, 18, 20]
right_vals = [-18, -17, -16, -15, -14, -13, -12, -11, -10, -9, -8, -7, -6, -5, -4, -3, -2, -1, 0, 1, 2]
lay["xaxis5"] = xaxis("y5", xd(89, 887), [-85, 2510], hhmm_ticks, hhmm_two_rows, size=13, stand=11,
                      griddash=DOT)
lay["yaxis5"] = yaxis("x5", yd(2227, 2655), [-20, 20], left_vals, size=14, griddash=DOT, stand=9)
lay["yaxis10"] = dict(overlaying="y5", side="right", anchor="x5", range=[-18, 2], tickmode="array",
                      tickvals=right_vals, ticktext=[str(v) for v in right_vals], showgrid=False,
                      zeroline=False, showline=False, ticks="", ticklabelstandoff=10,
                      tickfont=dict(family=FONT, size=14, color="black"))
for yv, lw in [(16, 1.5), (0, 2.5)]:
    shapes.append(dict(type="line", xref="x5 domain", yref="y5", x0=0, x1=1, y0=yv, y1=yv,
                       line=dict(color="black", width=lw), layer="above"))
rect(30, 2176, 962, 2714, fill="rgba(0,0,0,0)")
rect(312, 2177, 654, 2222, shadow=True)
text(483, 2199, "Wokingham AWS 10 Feb 2016", size=19)
rect(412, 2564, 592, 2646, shadow=True)
seg(429, 2593, 443, 2593, width=3)
text(451, 2591, "Grass level temp", size=16, anchor="left")
seg(429, 2622, 443, 2622, width=1, color="#8a8a8a")
text(451, 2620, "Grass-air diff", size=16, anchor="left")
text(40, 2440, "Grass Temp (Deg C)", size=14, angle=-90)
text(935, 2440, "Grass Temp minus Air Temp (Deg C)", size=14, angle=-90)
text(488, 2707, "Time GMT", size=13)

# ---------------------------------------------------------------- 6 rainfall
fig.add_trace(go.Scatter(x=cols(rain, 0), y=cols(rain, 1), mode="lines", line=dict(color="black", width=2.5),
                         xaxis="x6", yaxis="y6", showlegend=False))
lay["xaxis6"] = xaxis("y6", xd(84, 924), [-77, 2521], hhmm_ticks, hhmm_two_rows, stand=11, griddash=DOT)
lay["yaxis6"] = yaxis("x6", yd(2742, 3197), [0, 10], [0, 2, 4, 6, 8, 10], gridwidth=3, stand=10,
                      minor=dict(tickvals=[1, 3, 5, 7, 9], showgrid=True, gridcolor="black",
                                 griddash=DOT, gridwidth=1, ticks=""))
rect(31, 2734, 961, 3266, fill="rgba(0,0,0,0)")
rect(111, 2739, 430, 2803, lw=0)
rect(430, 2739, 833, 2779, lw=0)
text(269, 2756, "Wokingham AWS 10 Feb 2016", size=19)
text(269, 2783, "Rainfall (TBR)", size=19)
text(628, 2757, "Corrected to equivalent of the standard gauge", size=17)
text(40, 2970, "Rainfall accumulation (mm)", size=14, angle=-90)
text(504, 3249, "Time (GMT)", size=13)

# ---------------------------------------------------------------- 7 sunshine
fig.add_trace(go.Scatter(x=cols(sunshine, 0), y=cols(sunshine, 1), mode="lines",
                         line=dict(color="black", width=2), xaxis="x7", yaxis="y7", showlegend=False))
lay["xaxis7"] = xaxis("y7", xd(108, 969), [2.39, 22.61], sun_ticks, [str(v) for v in sun_ticks], size=20,
                      stand=8, griddash="4px,3px")
lay["yaxis7"] = yaxis("x7", yd(3308, 3762), [0, 150], [0, 50, 100], ["0", "", "100"], stand=12,
                      gridcolor="#9a9a9a", griddash="2px,1px", ticks="inside", ticklen=10, tickcolor="black")
rect(27, 3297, 976, 3813, fill="rgba(0,0,0,0)")
rect(330, 3305, 701, 3373, lw=0)
rect(350, 3372, 685, 3450, lw=0)
text(515, 3318, "Wokingham sunshine", size=19)
text(515, 3348, "10-Feb", size=26)
text(515, 3390, "2016", size=16, bold=True)
text(515, 3419, "Total 0.70 Hrs", size=26)
text(55, 3536, "Sunshine (per cent per minute)", size=14, angle=-90)
text(537, 3806, "Time (GMT)", size=13)

# ---------------------------------------------------------------- 8 wind direction
fig.add_trace(go.Scatter(x=cols(wind_dir, 0), y=cols(wind_dir, 1), mode="markers",
                         marker=dict(symbol="diamond", size=9, color="black"),
                         xaxis="x8", yaxis="y8", showlegend=False))
dir_major = [0, 30, 60, 90, 120, 150, 180, 210, 240, 270, 300, 330, 360]
dir_minor = [v for v in range(10, 360, 10) if v % 30]
lay["xaxis8"] = xaxis("y8", xd(113, 951), [-0.73, 24.82], hour_ticks, [str(v) for v in hour_ticks], size=13,
                      stand=11)
lay["yaxis8"] = yaxis("x8", yd(3869, 4334), [0, 360], dir_major, size=13, gridwidth=3, stand=10,
                      minor=dict(tickvals=dir_minor, showgrid=True, gridcolor="black", gridwidth=1, ticks=""))
rect(27, 3850, 969, 4383, fill="rgba(0,0,0,0)")
rect(377, 3866, 673, 3906, lw=0)
text(524, 3868, "Wokingham,  10 February 2016", size=16, bold=True)
text(524, 3888, "5 minute mean wind direction", size=14)
text(60, 4104, "Direction, degrees true", size=14, angle=-90)
text(531, 4370, "Time (GMT)", size=14)

# ---------------------------------------------------------------- 9 wind speed
fig.add_trace(go.Scatter(x=cols(wind_gust, 0), y=cols(wind_gust, 1), mode="lines",
                         line=dict(color="#4d4d4d", width=1), xaxis="x9", yaxis="y9", showlegend=False))
fig.add_trace(go.Scatter(x=cols(wind_mean, 0), y=cols(wind_mean, 1), mode="lines",
                         line=dict(color="black", width=2), xaxis="x9", yaxis="y9", showlegend=False))
fig.add_trace(go.Scatter(x=cols(wind_x10, 0), y=cols(wind_x10, 1), mode="markers",
                         marker=dict(symbol="diamond", size=10, color="#c4c4c4",
                                     line=dict(color="#333333", width=1)),
                         xaxis="x9", yaxis="y9", showlegend=False))
lay["xaxis9"] = xaxis("y9", xd(87, 962), [-0.72, 25.4], clock_ticks, clock_labels, stand=12, griddash=DOT)
lay["yaxis9"] = yaxis("x9", yd(4445, 4840), [0, 50], [0, 10, 20, 30, 40, 50], griddash=DOT, stand=10,
                      minor=dict(tickvals=[5, 15, 25, 35, 45], showgrid=True, gridcolor="black",
                                 griddash=DOT, gridwidth=1, ticks=""))
rect(27, 4401, 969, 4915, fill="rgba(0,0,0,0)")
seg(89, 4445, 438, 4445, width=3, color="white")
text(264, 4423, "Wokingham,  10 February 2016", size=19)
text(573, 4412, "Wind speed, 10 min mean / max gust", size=14)
text(573, 4429, "Speeds below 4 kt shown at x10 scale", size=14)
rect(730, 4407, 947, 4432, shadow=True)
seg(765, 4421, 775, 4421, width=3)
text(781, 4419, "Speed x 1", size=11.5, anchor="left")
dx, dy = 4 / W, 4 / H
cx, cy = px(861), py(4419)
shapes.append(dict(type="path", xref="paper", yref="paper",
                   path=f"M {cx},{cy + dy} L {cx + dx},{cy} L {cx},{cy - dy} L {cx - dx},{cy} Z",
                   fillcolor="white", line=dict(color="black", width=1), layer="above"))
text(870, 4419, "Speed /10", size=11.5, anchor="left")
text(42, 4643, "Speed (knots)", size=14, angle=-90)
text(524, 4892, "Time (GMT)", size=14)

fig.update_layout(width=W, height=H, margin=dict(l=0, r=0, t=0, b=0), paper_bgcolor="white",
                  plot_bgcolor="white", showlegend=False, shapes=shapes, annotations=notes,
                  font=dict(family=FONT, color="black"), **lay)
fig.write_html("out.html")
